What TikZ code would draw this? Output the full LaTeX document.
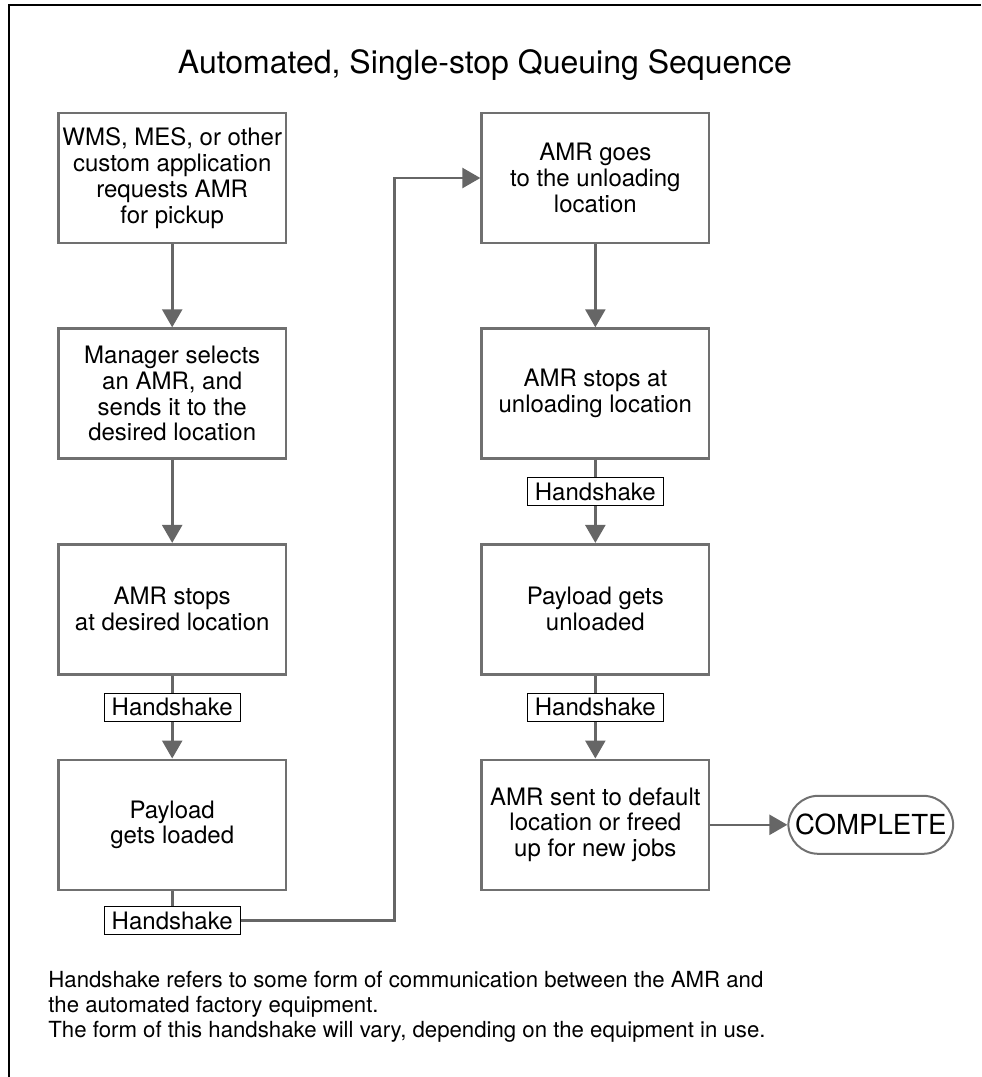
\documentclass[tikz,border=0pt]{standalone}
\usepackage{fontspec}
\setmainfont{TeX Gyre Heros}
\usetikzlibrary{arrows.meta,positioning}
\definecolor{edge}{HTML}{666666}
\definecolor{rim}{HTML}{707070}

\begin{document}
\begin{tikzpicture}[
  node distance=41.5pt,
  every node/.style={font=\fontsize{12pt}{12.9pt}\selectfont,align=center},
  stepbox/.style={draw=rim,line width=1.3pt,minimum width=113.7pt,minimum height=65pt,inner sep=2pt},
  shake/.style={draw=black,line width=0.6pt,minimum width=68pt,minimum height=14pt,inner sep=1pt},
  endbox/.style={draw=rim,line width=1pt,rounded corners=15pt,minimum width=79pt,minimum height=29pt,font=\fontsize{13.8pt}{15pt}\selectfont},
  arrow/.style={-{Triangle[length=9pt,width=10pt]},line width=1.3pt,color=edge},
  link/.style={line width=1.3pt,color=edge}
]
\useasboundingbox (0,0) rectangle (490.5pt,-538.5pt);
\draw[line width=1pt] (4.5pt,-538.5pt) |- (490.5pt,-2.5pt);
\node[font=\fontsize{16pt}{19pt}\selectfont,anchor=base] (title) at (242.5pt,-36.5pt) {Automated, Single-stop Queuing Sequence};
% left column
\node[stepbox] (request) at (86.1pt,-89pt) {WMS, MES, or other\\custom application\\requests AMR\\for pickup};
\node[stepbox,below=of request] (select) {Manager selects\\an AMR, and\\sends it to the\\desired location};
\node[stepbox,below=of select] (stop) {AMR stops\\at desired location};
\node[shake,below=8.5pt of stop] (hsa) {Handshake};
\node[stepbox,below=of stop] (load) {Payload\\gets loaded};
\node[shake,below=7.5pt of load] (hsb) {Handshake};
% right column
\node[stepbox,right=96.5pt of request] (go) {AMR goes\\to the unloading\\location};
\node[stepbox,below=of go] (arrive) {AMR stops at\\unloading location};
\node[shake,below=8.5pt of arrive] (hsc) {Handshake};
\node[stepbox,below=of arrive] (unload) {Payload gets\\unloaded};
\node[shake,below=8.5pt of unload] (hsd) {Handshake};
\node[stepbox,below=of unload] (free) {AMR sent to default\\location or freed\\up for new jobs};
\node[endbox,right=38.5pt of free] (done) {COMPLETE};
\draw[arrow] (request)--(select);
\draw[arrow] (select)--(stop);
\draw[link] (stop)--(hsa);
\draw[arrow] (hsa)--(load);
\draw[link] (load)--(hsb);
\draw[arrow] (hsb.east) -| ([xshift=-43pt]go.west) -- (go.west);
\draw[arrow] (go)--(arrive);
\draw[link] (arrive)--(hsc);
\draw[arrow] (hsc)--(unload);
\draw[link] (unload)--(hsd);
\draw[arrow] (hsd)--(free);
\draw[arrow] (free)--(done);
\node[anchor=north west,align=left,inner sep=0pt,font=\fontsize{11.1pt}{12.5pt}\selectfont] (note) at (24pt,-485.5pt) {Handshake refers to some form of communication between the AMR and\\the automated factory equipment.\\The form of this handshake will vary, depending on the equipment in use.};
\end{tikzpicture}
\end{document}
